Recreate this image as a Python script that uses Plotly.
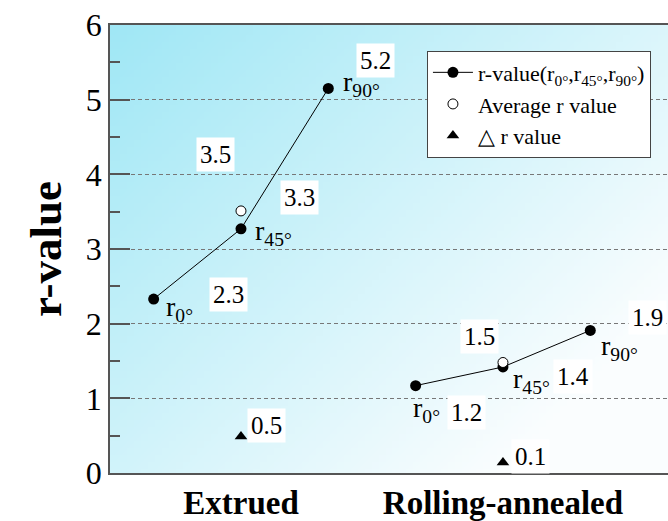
import base64
import struct
import zlib

import plotly.graph_objects as go

# ---------------- data ----------------
categories = ["Extrued", "Rolling-annealed"]
cat_pos = [1, 4]
r_labels = ["r<sub>0°</sub>", "r<sub>45°</sub>", "r<sub>90°</sub>"]

extr_x = [0, 1, 2]
extr_r = [2.33, 3.27, 5.15]
extr_r_txt = ["2.3", "3.3", "5.2"]

roll_x = [3, 4, 5]
roll_r = [1.17, 1.42, 1.91]
roll_r_txt = ["1.2", "1.4", "1.9"]

avg_x = [1, 4]
avg_r = [3.51, 1.48]
avg_txt = ["3.5", "1.5"]

delta_x = [1, 4]
delta_r = [0.49, 0.14]
delta_txt = ["0.5", "0.1"]

# ---------------- background gradient (style only) ----------------
def gradient_png(w=80, h=64):
    c0 = (160, 231, 245)
    c1 = (250, 253, 254)
    rows = []
    for j in range(h):
        v = j / (h - 1)
        row = bytearray([0])
        for i in range(w):
            u = i / (w - 1)
            t = min(1.0, 1.2 * (0.55 * u + 0.45 * v))
            row += bytes(int(round(a + (b - a) * t)) for a, b in zip(c0, c1))
        rows.append(bytes(row))
    raw = b"".join(rows)

    def chunk(tag, data):
        c = struct.pack(">I", len(data)) + tag + data
        return c + struct.pack(">I", zlib.crc32(tag + data) & 0xFFFFFFFF)

    png = b"\x89PNG\r\n\x1a\n"
    png += chunk(b"IHDR", struct.pack(">IIBBBBB", w, h, 8, 2, 0, 0, 0))
    png += chunk(b"IDAT", zlib.compress(raw, 9))
    png += chunk(b"IEND", b"")
    return "data:image/png;base64," + base64.b64encode(png).decode()


SERIF = "Liberation Serif"

fig = go.Figure()

fig.add_trace(go.Scatter(
    x=extr_x + [None] + roll_x,
    y=extr_r + [None] + roll_r,
    mode="lines+markers",
    line=dict(color="black", width=1),
    marker=dict(color="black", size=11, symbol="circle"),
    name="r-value(r<sub>0°</sub>,r<sub>45°</sub>,r<sub>90°</sub>)",
    connectgaps=False,
))
fig.add_trace(go.Scatter(
    x=avg_x, y=avg_r, mode="markers",
    marker=dict(color="white", size=10, symbol="circle",
                line=dict(color="black", width=1)),
    name="Average r value",
))
fig.add_trace(go.Scatter(
    x=delta_x, y=delta_r, mode="markers",
    marker=dict(color="black", size=11, symbol="triangle-up"),
    name="△ r value",
))

annotations = []
val_font = dict(family=SERIF, size=25, color="black")
r_font = dict(family=SERIF, size=28, color="black")

# value labels with white boxes (pixel offsets relative to each point)
val_offsets_extr = [(75, 5), (59, 31), (47, 28)]
val_offsets_roll = [(51, -27), (70, -10), (57, 13)]
for xs, ys, txts, offs in [(extr_x, extr_r, extr_r_txt, val_offsets_extr),
                           (roll_x, roll_r, roll_r_txt, val_offsets_roll)]:
    for x, y, t, (dx, dy) in zip(xs, ys, txts, offs):
        annotations.append(dict(x=x, y=y, text=t, showarrow=False,
                                xshift=dx, yshift=dy, font=val_font,
                                bgcolor="white", borderpad=3))
for x, y, t, (dx, dy) in zip(avg_x, avg_r, avg_txt, [(-25, 56), (-23, 26)]):
    annotations.append(dict(x=x, y=y, text=t, showarrow=False,
                            xshift=dx, yshift=dy, font=val_font,
                            bgcolor="white", borderpad=3))
for x, y, t, (dx, dy) in zip(delta_x, delta_r, delta_txt, [(26, 11), (28, 6)]):
    annotations.append(dict(x=x, y=y, text=t, showarrow=False,
                            xshift=dx, yshift=dy, font=val_font,
                            bgcolor="white", borderpad=3))

# r_0, r_45, r_90 labels
r_offsets_extr = [(10, -9), (12, -4), (13, 5)]
r_offsets_roll = [(-5, -24), (8, -14), (9, -17)]
for xs, ys, offs in [(extr_x, extr_r, r_offsets_extr),
                     (roll_x, roll_r, r_offsets_roll)]:
    for x, y, lab, (dx, dy) in zip(xs, ys, r_labels, offs):
        annotations.append(dict(x=x, y=y, text=lab, showarrow=False,
                                xanchor="left", yanchor="middle",
                                xshift=dx, yshift=dy, font=r_font))

fig.update_layout(
    width=668, height=521,
    margin=dict(l=110, r=0, t=25, b=41),
    paper_bgcolor="white",
    plot_bgcolor="rgba(0,0,0,0)",
    showlegend=True,
    legend=dict(
        x=0.568, y=0.943, xanchor="left", yanchor="top",
        bgcolor="white", bordercolor="#444", borderwidth=1,
        font=dict(family=SERIF, size=22, color="black"),
        tracegroupgap=0, itemwidth=40,
    ),
    images=[dict(source=gradient_png(), xref="paper", yref="paper",
                 x=0, y=1, sizex=1, sizey=1, sizing="stretch",
                 xanchor="left", yanchor="top", layer="below")],
    annotations=annotations,
)

fig.update_xaxes(
    range=[-0.5, 5.89],
    tickvals=cat_pos, ticktext=categories,
    tickfont=dict(family=SERIF, size=33, color="black", weight="bold"),
    showline=True, linecolor="#555", linewidth=1.5, mirror=True,
    showgrid=False, zeroline=False, ticks="",
)
fig.update_yaxes(
    range=[0, 6], dtick=1,
    tickfont=dict(family=SERIF, size=32, color="black"),
    title=dict(text="<b>r-value</b>", font=dict(family=SERIF, size=45, color="black"),
               standoff=10),
    showline=True, linecolor="#555", linewidth=1.5, mirror=False,
    ticks="inside", ticklen=20, tickcolor="#555", tickwidth=1.5,
    showgrid=True, gridcolor="#777", gridwidth=1, griddash="4px,3px",
    zeroline=False,
    minor=dict(dtick=0.5, ticks="inside", ticklen=10, tickcolor="#555",
               tickwidth=1.5, showgrid=False),
)

fig.write_html("out.html")
